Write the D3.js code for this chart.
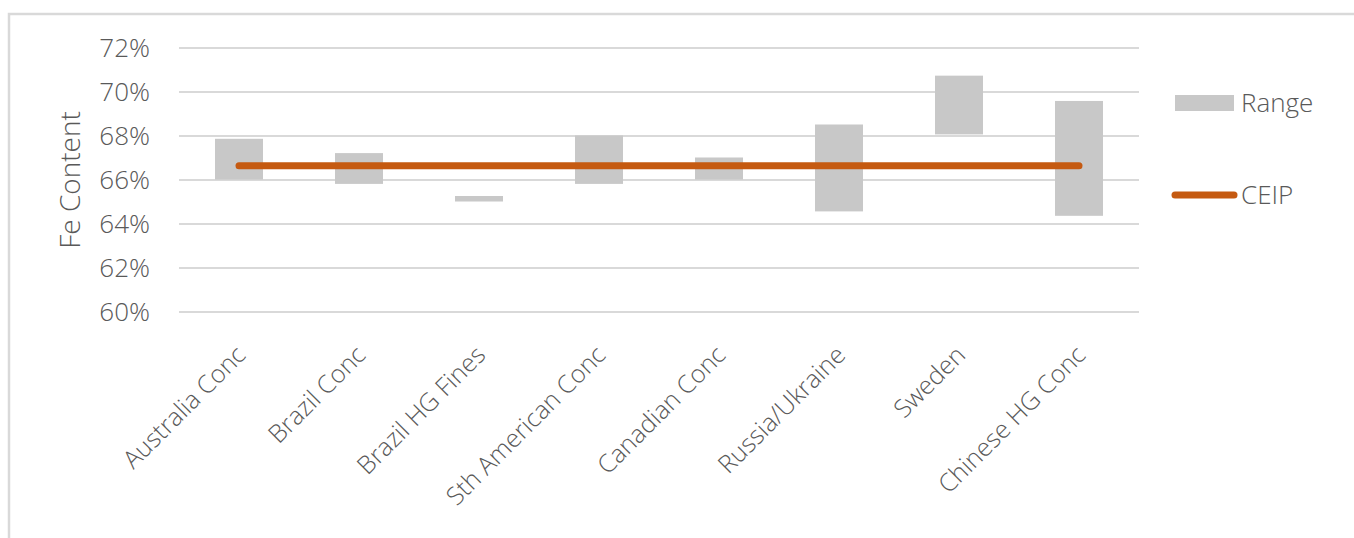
<!DOCTYPE html>
<html>
<head>
<meta charset="utf-8">
<script src="https://cdn.jsdelivr.net/npm/d3@7"></script>
<style>
  body { margin: 0; background: #fff; }
  text { font-family: "Open Sans", "Noto Sans", sans-serif; font-weight: 300; fill: #595959; }
</style>
</head>
<body>
<div id="chart"></div>
<script>
// data
const categories = ['Australia Conc', 'Brazil Conc', 'Brazil HG Fines', 'Sth American Conc',
  'Canadian Conc', 'Russia/Ukraine', 'Sweden', 'Chinese HG Conc'];
const rangeLow = [0.660, 0.658, 0.650, 0.658, 0.660, 0.6455, 0.6805, 0.6435];
const rangeHigh = [0.6785, 0.672, 0.6525, 0.680, 0.670, 0.685, 0.7072, 0.6957];
const ceip = 0.6663;
const yTicks = [0.60, 0.62, 0.64, 0.66, 0.68, 0.70, 0.72];

const w = 1354;
const h = 538;
const plot = { left: 179, right: 1139, top: 47.5, bottom: 311.5 };

const svg = d3.select('#chart')
  .append('svg')
  .attr('width', w)
  .attr('height', h);

// chart frame
svg.append('rect')
  .attr('x', 9).attr('y', 14)
  .attr('width', w + 10).attr('height', h + 10)
  .attr('fill', 'none')
  .attr('stroke', '#d9d9d9')
  .attr('stroke-width', 2.5);

const x = d3.scaleBand()
  .domain(categories)
  .range([plot.left, plot.right])
  .paddingInner(0.6)
  .paddingOuter(0.3);

const y = d3.scaleLinear()
  .domain([0.60, 0.72])
  .range([plot.bottom, plot.top]);

// y axis + gridlines
const yAxis = svg.append('g')
  .attr('transform', `translate(${plot.left}, 0)`)
  .call(d3.axisLeft(y)
    .tickValues(yTicks)
    .tickSize(-(plot.right - plot.left))
    .tickPadding(29)
    .tickFormat(d3.format('.0%')));
yAxis.select('.domain').remove();
yAxis.selectAll('line').attr('stroke', '#d9d9d9').attr('stroke-width', 2);
yAxis.selectAll('text')
  .style('font-size', '26px')
  .attr('fill', '#595959')
  .attr('dy', '0.35em');

// x axis labels
const xAxis = svg.append('g')
  .attr('transform', `translate(0, ${plot.bottom})`)
  .call(d3.axisBottom(x).tickSize(0));
xAxis.select('.domain').remove();
xAxis.selectAll('text')
  .attr('x', 0).attr('y', 0).attr('dy', 0)
  .attr('text-anchor', 'end')
  .attr('transform', 'translate(8, 45) rotate(-45)')
  .attr('fill', '#595959')
  .style('font-size', '25px');

// range bars
svg.append('g')
  .selectAll('rect')
  .data(categories)
  .enter()
  .append('rect')
  .attr('x', d => x(d))
  .attr('width', x.bandwidth())
  .attr('y', (d, i) => y(rangeHigh[i]))
  .attr('height', (d, i) => y(rangeLow[i]) - y(rangeHigh[i]))
  .attr('fill', '#c8c8c8');

// CEIP line
const line = d3.line()
  .x(d => x(d) + x.bandwidth() / 2)
  .y(() => y(ceip));
svg.append('path')
  .datum(categories)
  .attr('d', line)
  .attr('fill', 'none')
  .attr('stroke', '#c55a11')
  .attr('stroke-width', 7)
  .attr('stroke-linecap', 'round');

// y title
svg.append('text')
  .attr('transform', 'translate(80, 180) rotate(-90)')
  .attr('text-anchor', 'middle')
  .style('font-size', '28px')
  .text('Fe Content');

// legend
const legend = svg.append('g');
legend.append('rect')
  .attr('x', 1175).attr('y', 95)
  .attr('width', 59).attr('height', 16)
  .attr('fill', '#c8c8c8');
legend.append('text')
  .attr('x', 1241).attr('y', 103)
  .attr('dy', '0.35em')
  .style('font-size', '26px')
  .text('Range');
legend.append('line')
  .attr('x1', 1175).attr('x2', 1234)
  .attr('y1', 195).attr('y2', 195)
  .attr('stroke', '#c55a11')
  .attr('stroke-width', 7)
  .attr('stroke-linecap', 'round');
legend.append('text')
  .attr('x', 1241).attr('y', 195)
  .attr('dy', '0.35em')
  .style('font-size', '26px')
  .text('CEIP');
</script>
</body>
</html>
